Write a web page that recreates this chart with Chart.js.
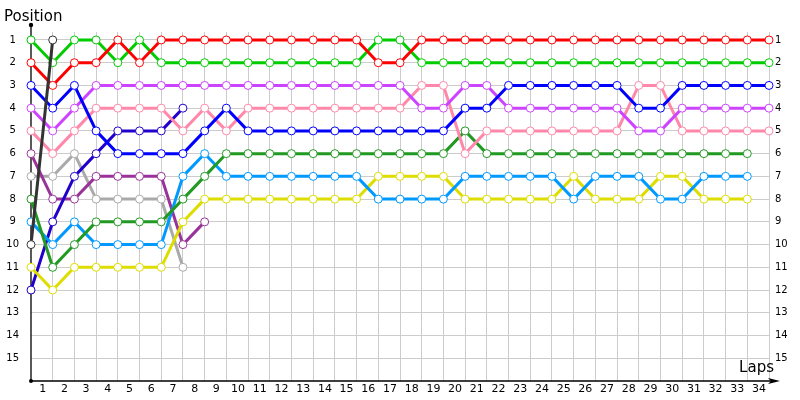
<!DOCTYPE html>
<html>
<head>
<meta charset="utf-8">
<script src="https://cdn.jsdelivr.net/npm/chart.js@4.4.1/dist/chart.umd.min.js"></script>
<style>
  html, body { margin: 0; padding: 0; background: #fff; }
  #wrap { width: 800px; height: 400px; position: relative; }
</style>
</head>
<body>
<div id="wrap"><canvas id="chart"></canvas></div>
<script>
// Lap chart - position of each car per lap (lap 0 = grid)
const LAPS = [0,1,2,3,4,5,6,7,8,9,10,11,12,13,14,15,16,17,18,19,20,21,22,23,24,25,26,27,28,29,30,31,32,33,34];
const LAP_TICKS = [1,2,3,4,5,6,7,8,9,10,11,12,13,14,15,16,17,18,19,20,21,22,23,24,25,26,27,28,29,30,31,32,33,34];
const POS_TICKS = [1,2,3,4,5,6,7,8,9,10,11,12,13,14,15];

const red      = [2,3,2,2,1,2,1,1, 1,1,1,1,1,1,1,1, 2,2, 1,1,1,1,1,1,1,1,1,1,1,1,1,1,1,1,1];
const green    = [1,2,1,1,2,1,2,2, 2,2,2,2,2,2,2,2, 1,1, 2,2,2,2,2,2,2,2,2,2,2,2,2,2,2,2,2];
const blue     = [3,4,3,5,6,6,6,6, 5,4, 5,5,5,5,5,5,5,5,5,5, 4,4, 3,3,3,3,3,3, 4,4, 3,3,3,3,3];
const violet   = [4,5,4,3, 3,3,3,3,3,3,3,3,3,3,3,3,3,3, 4,4, 3,3, 4,4,4,4,4,4, 5,5, 4,4,4,4,4];
const pink     = [5,6,5,4,4,4,4,5,4, 5, 4,4,4,4,4,4,4,4, 3,3,6, 5,5,5,5,5,5,5, 3,3, 5,5,5,5,5];
const dkgreen  = [8,11,10,9,9,9,9,8,7, 6,6,6,6,6,6,6,6,6,6,6, 5, 6,6,6,6,6,6,6,6,6,6,6,6,6];
const ltblue   = [9,10,9,10,10,10,10,7,6, 7,7,7,7,7,7,7, 8,8,8,8, 7,7,7,7,7, 8, 7,7,7, 8,8, 7,7,7];
const yellow   = [11,12,11,11,11,11,11,9,8, 8,8,8,8,8,8,8, 7,7,7,7, 8,8,8,8,8, 7, 8,8,8, 7,7, 8,8,8];
const indigo   = [12,9,7,6,5,5,5,4];
const purple   = [6,8,8,7,7,7,7,10,9];
const gray     = [7,7,6,8,8,8,8,11];
const black    = [10,1];

const SERIES = [
  { data: black,   color: '#333333' },
  { data: red,     color: '#ff0000' },
  { data: green,   color: '#00cc00' },
  { data: blue,    color: '#0000ff' },
  { data: violet,  color: '#cc44ff' },
  { data: pink,    color: '#ff88aa' },
  { data: dkgreen, color: '#229922' },
  { data: ltblue,  color: '#0099ff' },
  { data: yellow,  color: '#dddd00' },
  { data: indigo,  color: '#2200cc' },
  { data: purple,  color: '#993399' },
  { data: gray,    color: '#aaaaaa' }
];

const FONT = 'DejaVu Sans, Verdana, sans-serif';

const axisDecor = {
  id: 'axisDecor',
  beforeDatasetsDraw(chart) {
    const { ctx, chartArea, scales: { x, y } } = chart;
    const x0 = x.getPixelForValue(0);
    const y0 = y.getPixelForValue(16);
    const yTop = chartArea.top - 7;
    const xEnd = chartArea.right + 11;
    ctx.save();
    ctx.strokeStyle = '#000';
    ctx.fillStyle = '#000';
    ctx.lineWidth = 1.3;
    ctx.beginPath();
    ctx.moveTo(x0, yTop);
    ctx.lineTo(x0, y0);
    ctx.lineTo(xEnd - 6, y0);
    ctx.stroke();
    ctx.beginPath(); ctx.arc(x0, yTop, 2.2, 0, Math.PI * 2); ctx.fill();
    ctx.beginPath(); ctx.arc(x0, y0, 2, 0, Math.PI * 2); ctx.fill();
    ctx.beginPath();
    ctx.moveTo(xEnd, y0);
    ctx.lineTo(xEnd - 12, y0 - 3);
    ctx.lineTo(xEnd - 9, y0);
    ctx.lineTo(xEnd - 12, y0 + 3);
    ctx.closePath();
    ctx.fill();
    ctx.restore();
  },
  afterDraw(chart) {
    const { ctx, chartArea, scales: { y } } = chart;
    ctx.save();
    ctx.fillStyle = '#000';
    ctx.font = '15px ' + FONT;
    ctx.textBaseline = 'alphabetic';
    ctx.textAlign = 'left';
    ctx.fillText('Position', 4, 21);
    ctx.textAlign = 'right';
    ctx.fillText('Laps', chartArea.right + 5, y.getPixelForValue(16) - 9);
    ctx.restore();
  }
};

function setTicks(list) {
  return scale => { scale.ticks = list.map(v => ({ value: v })); };
}

const ctx = document.getElementById('chart').getContext('2d');
new Chart(ctx, {
  type: 'line',
  data: {
    datasets: SERIES.map(s => ({
      data: s.data.map((v, i) => ({ x: LAPS[i], y: v })),
      borderColor: s.color,
      backgroundColor: s.color,
      borderWidth: 3,
      pointRadius: 4,
      pointBackgroundColor: '#ffffff',
      pointBorderColor: s.color,
      pointBorderWidth: 1,
      tension: 0,
      fill: false,
      clip: false
    }))
  },
  options: {
    responsive: true,
    maintainAspectRatio: false,
    animation: false,
    devicePixelRatio: 1,
    layout: { padding: { top: 32, left: 0, right: 0, bottom: 0 } },
    plugins: { legend: { display: false }, tooltip: { enabled: false } },
    scales: {
      x: {
        type: 'linear', min: 0, max: 34,
        afterBuildTicks: setTicks(LAP_TICKS),
        afterFit: s => { s.height = 19; },
        grid: { color: '#cccccc', drawTicks: false },
        border: { display: false },
        ticks: { color: '#000', font: { family: FONT, size: 11 }, padding: 2, labelOffset: -10, maxRotation: 0, autoSkip: false }
      },
      y: {
        type: 'linear', position: 'left', reverse: true, min: 0.65, max: 16,
        afterBuildTicks: setTicks(POS_TICKS),
        afterFit: s => { s.width = 31; },
        grid: { color: '#cccccc', drawTicks: false },
        border: { display: false },
        ticks: { color: '#000', font: { family: FONT, size: 10 }, padding: 12, crossAlign: 'center', autoSkip: false }
      },
      y2: {
        type: 'linear', position: 'right', reverse: true, min: 0.65, max: 16,
        afterBuildTicks: setTicks(POS_TICKS),
        afterFit: s => { s.width = 31; },
        grid: { display: false, drawTicks: false },
        border: { display: false },
        ticks: { color: '#000', font: { family: FONT, size: 10 }, padding: 6, autoSkip: false }
      }
    }
  },
  plugins: [axisDecor]
});
</script>
</body>
</html>
